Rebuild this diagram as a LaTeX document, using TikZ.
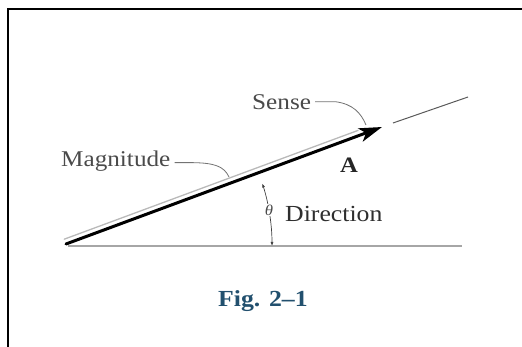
\documentclass[tikz,border=0pt]{standalone}
\usepackage{fontspec}
\setmainfont{Liberation Serif}[FakeStretch=1.12]
\usetikzlibrary{arrows.meta,calc}
\definecolor{labelgray}{HTML}{4A4A4A}
\definecolor{dirgray}{HTML}{2E2E2E}
\definecolor{figblue}{HTML}{22506E}
\begin{document}
\begin{tikzpicture}[x=1pt,y=-1pt,
  lbl/.style={inner sep=0pt, anchor=base west, text=labelgray, font=\fontsize{22.5}{26}\selectfont},
  leader/.style={draw=gray!90!black, line width=0.8pt},
  dimline/.style={draw=black!75, line width=0.7pt, {Latex[length=4pt,width=3pt]}-{Latex[length=4pt,width=3pt]}}]
\useasboundingbox (0,0) rectangle (522,347);
% frame
\draw[line width=2.2pt, black] (8,347) -- (8,9) -- (522,9);
% base line
\coordinate (B1) at (68,246);
\coordinate (B2) at (462,246);
\draw[gray!70, line width=1.4pt] (B1) -- (B2);
% vector A
\coordinate (T) at (66,244);
\coordinate (H) at (382,127);
\draw[gray!55, line width=1.3pt, line cap=round] ($(T)+(-1.8,-4.8)$) -- ($(T)!0.93!(H)+(-1.8,-4.8)$);
\draw[black, line width=3pt, line cap=round, -{Stealth[length=23pt,width=14pt,inset=6pt]}] (T) -- (H);
% line of action
\coordinate (L1) at (393,123);
\coordinate (L2) at (468,97);
\draw[gray!70!black, line width=1pt] (L1) -- (L2);
% angle
\draw[dimline] (272,246) arc[start angle=0, end angle=-17.5, radius=208];
\node[fill=white, inner sep=1pt, text=labelgray, font=\fontsize{15}{17}\selectfont\itshape] (theta) at (269,210) {θ};
% labels
\node[lbl] (mag) at (61,167) {Magnitude};
\node[lbl] (sense) at (252,110) {Sense};
\node[lbl, text=dirgray, font=\fontsize{23}{26}\selectfont] (dir) at (285,222) {Direction};
\node[lbl, text=black!85, font=\bfseries\fontsize{22}{26}\selectfont] (A) at (340,173) {A};
\node[lbl, text=figblue, font=\bfseries\fontsize{23}{26}\selectfont] (fig) at (218,306) {Fig. 2–1};
% leaders
\coordinate (magE) at (229,177);
\draw[leader] ([xshift=4pt,yshift=-1pt]mag.east) -- ++(18,0) .. controls (214,163) and (224,166) .. (magE);
\coordinate (senseE) at (366,125);
\draw[leader] ([xshift=4pt,yshift=1pt]sense.east) -- ++(20,0) .. controls (353,104) and (361,113) .. (senseE);
\end{tikzpicture}
\end{document}
